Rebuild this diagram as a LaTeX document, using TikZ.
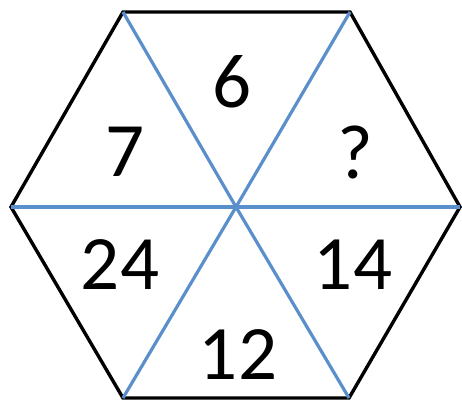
\documentclass[tikz,border=0pt]{standalone}
\usepackage{fontspec}
\setmainfont{Carlito}
\definecolor{spokeblue}{HTML}{5B8FCB}

\begin{document}
\begin{tikzpicture}[x=1pt,y=-1pt,every node/.style={font=\fontsize{77}{77}\selectfont, inner sep=0pt, outer sep=0pt}]
\useasboundingbox (0,0) rectangle (462,403);
\coordinate (c) at (236,207);
\coordinate (v1) at (123,12);
\coordinate (v2) at (350,12);
\coordinate (v3) at (460,207);
\coordinate (v4) at (349,398);
\coordinate (v5) at (123,398);
\coordinate (v6) at (11,207);
\draw[black,line width=3.4pt] (v1) -- (v2) -- (v3) -- (v4) -- (v5) -- (v6) -- cycle;
\foreach \v in {v1,v2,v3,v4,v5,v6} {
\draw[spokeblue,line width=3.2pt] (c) -- (\v);
}
\node (top) at (232,82) {6};
\node (upleft) at (125,152) {7};
\node (upright) at (355,152) {?};
\node (lowleft) at (120,265) {24};
\node (lowright) at (353,265) {14};
\node (bottom) at (238,355) {12};
\end{tikzpicture}
\end{document}
